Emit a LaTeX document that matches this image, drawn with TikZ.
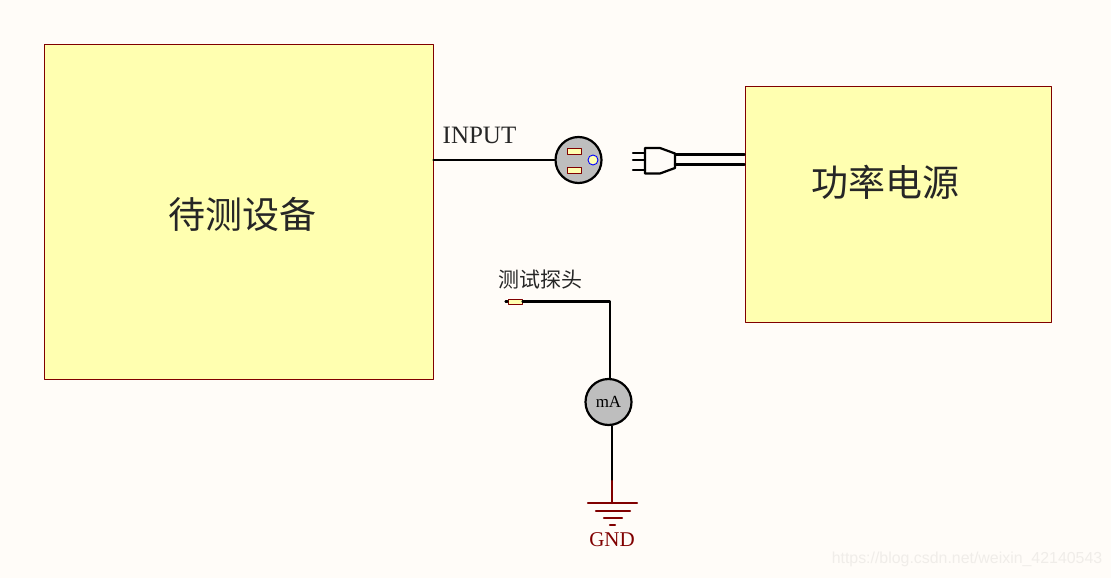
\documentclass[tikz,border=0pt]{standalone}
\usepackage{fontspec}
\setmainfont{Liberation Serif}
\newfontfamily\cjk{Noto Sans CJK SC}
\newfontfamily\marksans{Liberation Sans}
\usepackage{xcolor}
\definecolor{paper}{HTML}{FFFCF8}
\definecolor{boxfill}{HTML}{FFFFB0}
\definecolor{darkred}{HTML}{800000}
\definecolor{metal}{HTML}{BEBEBE}
\tikzset{
  every picture/.style={line join=round, line cap=round},
  unitbox/.style={shape=rectangle,draw=darkred,fill=boxfill,line width=0.9pt,inner sep=0pt},
  wire/.style={line width=2.2pt,black},
  gndwire/.style={line width=2.2pt,darkred},
  roundpart/.style={shape=circle,draw=black,fill=metal,line width=2.2pt,inner sep=0pt,minimum size=46pt},
  slot/.style={shape=rectangle,draw=darkred,fill=boxfill,line width=0.9pt,inner sep=0pt,minimum width=14pt,minimum height=6pt},
  txt/.style={inner sep=0pt,text=black!85},
}
\begin{document}
\begin{tikzpicture}[x=1pt,y=-1pt]
\useasboundingbox[fill=paper](0,0)rectangle(1111,578);
\node[unitbox,minimum width=389pt,minimum height=335pt](device)at(238.5,211.5){};
\node[unitbox,minimum width=306pt,minimum height=236pt](power)at(898,204){};
\node[txt,font=\fontsize{37}{37}\selectfont\cjk](devicetext)at(242,214){待测设备};
\node[txt,font=\fontsize{37}{37}\selectfont\cjk](powertext)at(885,182){功率电源};
\node[txt,font=\fontsize{25}{25}\selectfont](inputtext)at(479.5,135){INPUT};
% socket
\node[roundpart](socket)at(578.5,160){};
\node[slot](slottop)at(574,151){};
\node[slot](slotbot)at(574,170.5){};
\node[shape=circle,draw=blue,fill=boxfill,line width=0.9pt,inner sep=0pt,minimum size=10pt](pin)at(593,160){};
\draw[wire](socket.west)--(socket.west-|device.east);
% plug
\draw[wire](645,148)--(660,148)--(675,153.5)--(675,168)--(660,173.5)--(645,173.5)--cycle;
\coordinate(plugtop)at(675,154.5);
\coordinate(plugbot)at(675,164.5);
\draw[wire](plugtop)--(plugtop-|power.west)
(plugbot)--(plugbot-|power.west);
\draw[wire](633,153)--(645,153)
(633,160)--(645,160)
(633,170)--(645,170);
% probe
\node[txt,font=\fontsize{21}{21}\selectfont\cjk](probetext)at(540.5,279){测试探头};
\node[slot,minimum height=5pt](probe)at(515,301.5){};
\coordinate(probetip)at(505.5,301.5);
\draw[wire](probetip)--(probe.west);
\node[roundpart,font=\fontsize{17}{17}\selectfont](meter)at(608.5,402){mA};
\coordinate(corner)at(610,301.5);
\draw[wire](probe.east)--(corner)--(corner|-meter.north);
% ground
\coordinate(gndtop)at(612,503);
\coordinate(gndjoin)at(612,481);
\draw[wire](gndjoin|-meter.south)--(gndjoin);
\draw[gndwire](gndjoin)--(gndtop);
\draw[gndwire](588,503)--(637,503)
(596,511)--(630,511)
(604,518)--(622,518)
(610,525)--(615,525);
\node[txt,font=\fontsize{21}{21}\selectfont,text=darkred](gndtext)at(612,540){GND};
\node[txt,font=\fontsize{15.9}{15.9}\selectfont\marksans,text=black!6!paper](marktext)at(967,559){https://blog.csdn.net/weixin\_42140543};
\end{tikzpicture}
\end{document}
